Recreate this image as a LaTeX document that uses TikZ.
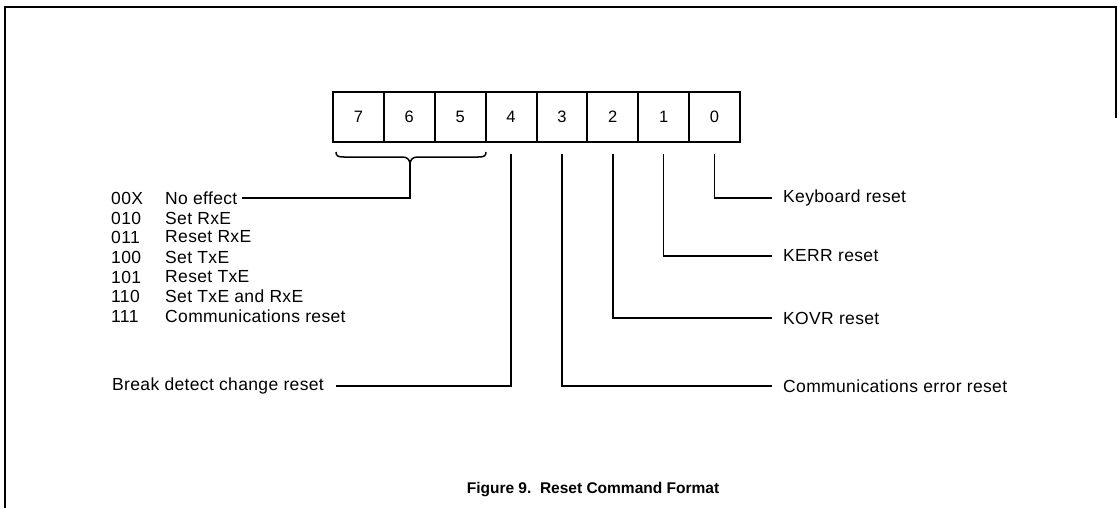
\documentclass[tikz,border=0pt]{standalone}
\usepackage{fontspec}
\setmainfont{Liberation Sans}[LetterSpace=2]
\newfontfamily\capfont{Liberation Sans}
\begin{document}
\begin{tikzpicture}[x=1pt,y=-1pt,
  bitbox/.style={draw,line width=2pt,minimum width=50.9pt,minimum height=50pt,inner sep=0pt,font=\fontsize{16.5}{19}\selectfont},
  lbl/.style={inner sep=0pt,anchor=west,font=\fontsize{17.5}{20}\selectfont},
  conn/.style={line width=1.5pt},
  frame/.style={line width=1.8pt}]
\useasboundingbox (0,0) rectangle (1118,508);
% frame
\draw[frame] (5,508) -- (5,7) -- (1116,7) -- (1116,118);
% bit boxes
\foreach \i in {0,...,7}{
  \pgfmathtruncatemacro{\bit}{7-\i}
  \node[bitbox] (b\bit) at ({333+25.45+\i*50.875},117) {\bit};
}
% brace under bits 7..5
\coordinate (brL) at (336,152);
\coordinate (brR) at (486,152);
\coordinate (brT) at (410,163);
\draw[conn] (brL) .. controls (336,156) and (338,157) .. (344,157) -- (402,157)
  .. controls (407,157) and (409,159) .. (brT)
  .. controls (411,159) and (413,157) .. (418,157) -- (478,157)
  .. controls (484,157) and (486,156) .. (brR);
% left-hand texts
\node[lbl] (c0) at (111,198) {00X};
\node[lbl] (noeff) at (165,198) {No effect};
\node[lbl] (c1) at (111,218) {010};
\node[lbl] (d1) at (165,218) {Set RxE};
\node[lbl] (c2) at (111,237) {011};
\node[lbl] (d2) at (165,237) {Reset RxE};
\node[lbl] (c3) at (111,257) {100};
\node[lbl] (d3) at (165,257) {Set TxE};
\node[lbl] (c4) at (111,277) {101};
\node[lbl] (d4) at (165,277) {Reset TxE};
\node[lbl] (c5) at (111,296) {110};
\node[lbl] (d5) at (165,296) {Set TxE and RxE};
\node[lbl] (c6) at (111,316) {111};
\node[lbl] (d6) at (165,316) {Communications reset};
\node[lbl] (brk) at (112,386) {Break detect change reset};
% right-hand texts
\node[lbl] (kbd) at (783,198) {Keyboard reset};
\node[lbl] (kerr) at (783,256) {KERR reset};
\node[lbl] (kovr) at (783,318) {KOVR reset};
\node[lbl] (cerr) at (783,386) {Communications error reset};
% connectors
\draw[conn] (brT) |- ([xshift=4pt]noeff.east);
\draw[conn] ([yshift=-11pt]b4.south) |- ([xshift=12pt]brk.east);
\draw[conn] ([yshift=-11pt]b3.south) |- ([xshift=-11pt]cerr.west);
\draw[conn] ([yshift=-11pt]b2.south) |- ([xshift=-11pt]kovr.west);
\draw[conn] ([yshift=-11pt]b1.south) |- ([xshift=-11pt]kerr.west);
\draw[conn] ([yshift=-11pt]b0.south) |- ([xshift=-11pt]kbd.west);
% caption
\node[inner sep=0pt,font=\capfont\bfseries\fontsize{15.5}{18}\selectfont] (cap) at (593,490) {Figure 9.\ \ Reset Command Format};
\end{tikzpicture}
\end{document}
